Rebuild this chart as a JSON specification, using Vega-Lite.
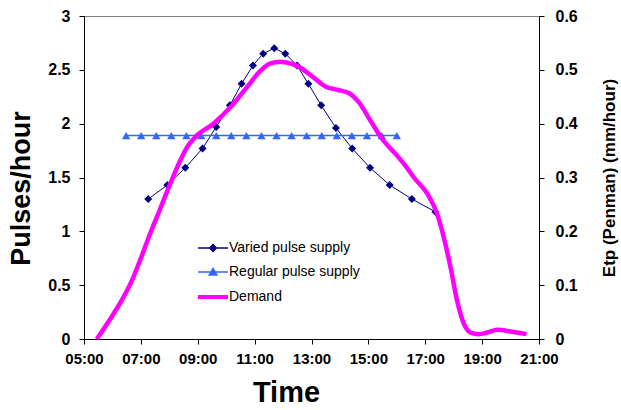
{
  "$schema": "https://vega.github.io/schema/vega-lite/v6.json",
  "width": 455,
  "height": 323,
  "autosize": {"type": "none"},
  "padding": {"left": 84, "top": 16, "right": 82, "bottom": 71},
  "background": "white",
  "config": {
    "font": "Liberation Sans",
    "view": {"stroke": "#808080", "strokeWidth": 1},
    "axis": {
      "grid": false,
      "domainColor": "black",
      "tickColor": "black",
      "labelColor": "black",
      "titleColor": "black",
      "labelFont": "Liberation Sans",
      "titleFont": "Liberation Sans",
      "labelFontWeight": "bold",
      "titleFontWeight": "bold",
      "labelFontSize": 16,
      "labelOverlap": false,
      "labelFlush": false,
      "tickSize": 5
    }
  },
  "data": {
    "values": [
      {"series": "Varied pulse supply", "hour": 7.26, "v": 1.30},
      {"series": "Varied pulse supply", "hour": 7.93, "v": 1.43},
      {"series": "Varied pulse supply", "hour": 8.56, "v": 1.59},
      {"series": "Varied pulse supply", "hour": 9.17, "v": 1.77},
      {"series": "Varied pulse supply", "hour": 9.65, "v": 1.97},
      {"series": "Varied pulse supply", "hour": 10.13, "v": 2.17},
      {"series": "Varied pulse supply", "hour": 10.54, "v": 2.37},
      {"series": "Varied pulse supply", "hour": 10.94, "v": 2.54},
      {"series": "Varied pulse supply", "hour": 11.30, "v": 2.65},
      {"series": "Varied pulse supply", "hour": 11.69, "v": 2.70},
      {"series": "Varied pulse supply", "hour": 12.08, "v": 2.65},
      {"series": "Varied pulse supply", "hour": 12.49, "v": 2.54},
      {"series": "Varied pulse supply", "hour": 12.89, "v": 2.37},
      {"series": "Varied pulse supply", "hour": 13.34, "v": 2.17},
      {"series": "Varied pulse supply", "hour": 13.86, "v": 1.96},
      {"series": "Varied pulse supply", "hour": 14.43, "v": 1.77},
      {"series": "Varied pulse supply", "hour": 15.06, "v": 1.59},
      {"series": "Varied pulse supply", "hour": 15.75, "v": 1.43},
      {"series": "Varied pulse supply", "hour": 16.53, "v": 1.30},
      {"series": "Varied pulse supply", "hour": 17.36, "v": 1.18},
      {"series": "Regular pulse supply", "hour": 6.48, "v": 1.89},
      {"series": "Regular pulse supply", "hour": 7.01, "v": 1.89},
      {"series": "Regular pulse supply", "hour": 7.54, "v": 1.89},
      {"series": "Regular pulse supply", "hour": 8.07, "v": 1.89},
      {"series": "Regular pulse supply", "hour": 8.60, "v": 1.89},
      {"series": "Regular pulse supply", "hour": 9.12, "v": 1.89},
      {"series": "Regular pulse supply", "hour": 9.65, "v": 1.89},
      {"series": "Regular pulse supply", "hour": 10.18, "v": 1.89},
      {"series": "Regular pulse supply", "hour": 10.71, "v": 1.89},
      {"series": "Regular pulse supply", "hour": 11.24, "v": 1.89},
      {"series": "Regular pulse supply", "hour": 11.77, "v": 1.89},
      {"series": "Regular pulse supply", "hour": 12.30, "v": 1.89},
      {"series": "Regular pulse supply", "hour": 12.83, "v": 1.89},
      {"series": "Regular pulse supply", "hour": 13.36, "v": 1.89},
      {"series": "Regular pulse supply", "hour": 13.89, "v": 1.89},
      {"series": "Regular pulse supply", "hour": 14.42, "v": 1.89},
      {"series": "Regular pulse supply", "hour": 14.95, "v": 1.89},
      {"series": "Regular pulse supply", "hour": 15.47, "v": 1.89},
      {"series": "Regular pulse supply", "hour": 16.00, "v": 1.89},
      {"series": "Demand", "hour": 5.45, "v": 0.0},
      {"series": "Demand", "hour": 6.03, "v": 0.046},
      {"series": "Demand", "hour": 6.38, "v": 0.077},
      {"series": "Demand", "hour": 6.68, "v": 0.108},
      {"series": "Demand", "hour": 6.97, "v": 0.146},
      {"series": "Demand", "hour": 7.32, "v": 0.195},
      {"series": "Demand", "hour": 7.68, "v": 0.242},
      {"series": "Demand", "hour": 8.03, "v": 0.288},
      {"series": "Demand", "hour": 8.38, "v": 0.331},
      {"series": "Demand", "hour": 8.62, "v": 0.356},
      {"series": "Demand", "hour": 8.91, "v": 0.375},
      {"series": "Demand", "hour": 9.55, "v": 0.400},
      {"series": "Demand", "hour": 10.14, "v": 0.430},
      {"series": "Demand", "hour": 10.73, "v": 0.468},
      {"series": "Demand", "hour": 11.2, "v": 0.498},
      {"series": "Demand", "hour": 11.55, "v": 0.512},
      {"series": "Demand", "hour": 11.9, "v": 0.515},
      {"series": "Demand", "hour": 12.37, "v": 0.510},
      {"series": "Demand", "hour": 12.61, "v": 0.504},
      {"series": "Demand", "hour": 13.07, "v": 0.486},
      {"series": "Demand", "hour": 13.49, "v": 0.469},
      {"series": "Demand", "hour": 13.9, "v": 0.463},
      {"series": "Demand", "hour": 14.31, "v": 0.457},
      {"series": "Demand", "hour": 14.66, "v": 0.440},
      {"series": "Demand", "hour": 15.07, "v": 0.406},
      {"series": "Demand", "hour": 15.48, "v": 0.372},
      {"series": "Demand", "hour": 15.95, "v": 0.344},
      {"series": "Demand", "hour": 16.3, "v": 0.322},
      {"series": "Demand", "hour": 16.6, "v": 0.300},
      {"series": "Demand", "hour": 17.07, "v": 0.270},
      {"series": "Demand", "hour": 17.42, "v": 0.232},
      {"series": "Demand", "hour": 17.65, "v": 0.189},
      {"series": "Demand", "hour": 17.89, "v": 0.133},
      {"series": "Demand", "hour": 18.12, "v": 0.071},
      {"series": "Demand", "hour": 18.36, "v": 0.028},
      {"series": "Demand", "hour": 18.59, "v": 0.012},
      {"series": "Demand", "hour": 18.88, "v": 0.009},
      {"series": "Demand", "hour": 19.18, "v": 0.012},
      {"series": "Demand", "hour": 19.53, "v": 0.017},
      {"series": "Demand", "hour": 20.0, "v": 0.014},
      {"series": "Demand", "hour": 20.56, "v": 0.009}
    ]
  },
  "layer": [
    {
      "layer": [
        {
          "transform": [{"filter": "datum.series === 'Varied pulse supply'"}],
          "mark": {"type": "line", "strokeWidth": 1, "point": {"filled": true, "shape": "diamond", "size": 64}},
          "encoding": {
            "x": {
              "field": "hour", "type": "quantitative",
              "scale": {"domain": [5, 21], "nice": false, "zero": false},
              "axis": {
                "values": [5, 7, 9, 11, 13, 15, 17, 19, 21],
                "labelExpr": "(datum.value < 10 ? '0' : '') + datum.value + ':00'",
                "labelFontSize": 15,
                "labelPadding": 7,
                "title": "Time",
                "titleFontSize": 29,
                "titleX": 202,
                "titleAlign": "center",
                "titlePadding": 12
              }
            },
            "y": {
              "field": "v", "type": "quantitative",
              "scale": {"domain": [0, 3], "nice": false},
              "axis": {
                "values": [0, 0.5, 1, 1.5, 2, 2.5, 3],
                "format": "~g",
                "labelPadding": 9,
                "title": "Pulses/hour",
                "titleFontSize": 27,
                "titleY": 172,
                "titleAlign": "center",
                "titlePadding": 12
              }
            },
            "color": {
              "datum": "Varied pulse supply",
              "type": "nominal",
              "scale": {
                "domain": ["Varied pulse supply", "Regular pulse supply", "Demand"],
                "range": ["#000080", "#3366ff", "#ff00ff"]
              },
              "legend": {
                "title": null,
                "orient": "none",
                "legendX": 122,
                "legendY": 225,
                "labelFont": "Liberation Sans",
                "labelFontSize": 14,
                "labelColor": "black",
                "symbolSize": 400,
                "rowPadding": 10,
                "labelOffset": 9,
                "encode": {
                  "symbols": {
                    "update": {
                      "shape": {"signal": "datum.value === 'Demand' ? 'M-1.5,0H1.5' : (datum.value === 'Varied pulse supply' ? 'M-1.5,0H1.5M0,-0.35L0.35,0L0,0.35L-0.35,0Z' : 'M-1.5,0H1.5M0,-0.38L0.4,0.3L-0.4,0.3Z')"},
                      "strokeWidth": {"signal": "datum.value === 'Demand' ? 4 : 1.3"},
                      "stroke": {"scale": "color", "field": "value"},
                      "fill": {"scale": "color", "field": "value"},
                      "opacity": {"value": 1},
                      "fillOpacity": {"value": 1},
                      "strokeOpacity": {"value": 1}
                    }
                  }
                }
              }
            }
          }
        },
        {
          "transform": [{"filter": "datum.series === 'Regular pulse supply'"}],
          "mark": {"type": "line", "strokeWidth": 1.5, "point": {"filled": true, "shape": "triangle-up", "size": 70}},
          "encoding": {
            "x": {"field": "hour", "type": "quantitative"},
            "y": {"field": "v", "type": "quantitative"},
            "color": {"datum": "Regular pulse supply", "type": "nominal"}
          }
        }
      ]
    },
    {
      "transform": [{"filter": "datum.series === 'Demand'"}],
      "mark": {"type": "line", "strokeWidth": 4.5, "interpolate": "monotone"},
      "encoding": {
        "x": {"field": "hour", "type": "quantitative"},
        "y": {
          "field": "v", "type": "quantitative",
          "scale": {"domain": [0, 0.6], "nice": false},
          "axis": {
            "orient": "right",
            "values": [0, 0.1, 0.2, 0.3, 0.4, 0.5, 0.6],
            "format": "~g",
            "labelPadding": 11,
            "title": "Etp (Penman) (mm/hour)",
            "titleFontSize": 17,
            "titleAngle": 270,
            "titlePadding": 41
          }
        },
        "color": {"datum": "Demand", "type": "nominal"}
      }
    }
  ],
  "resolve": {"scale": {"y": "independent"}}
}
